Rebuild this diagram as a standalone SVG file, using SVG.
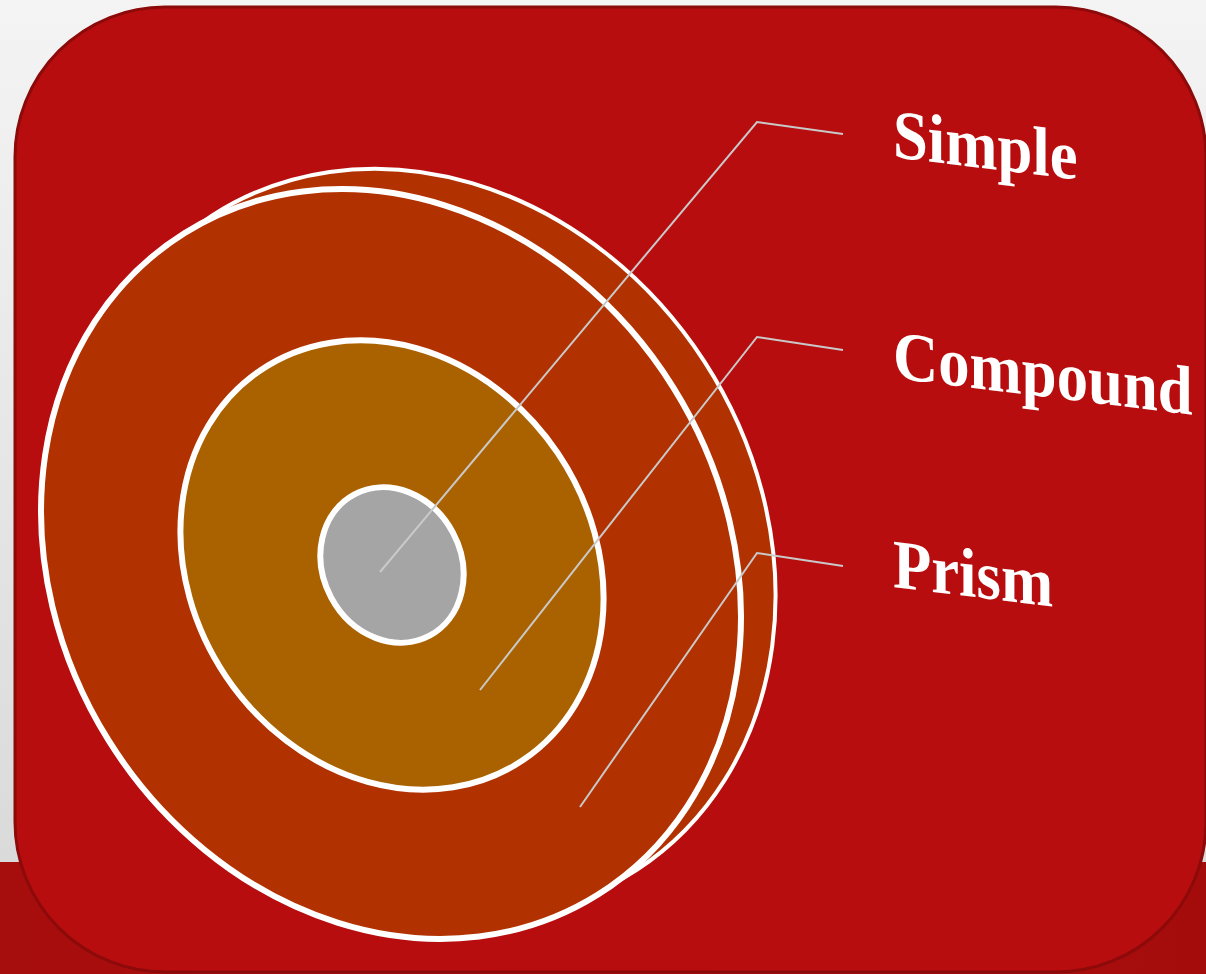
<svg xmlns="http://www.w3.org/2000/svg" width="1206" height="974" viewBox="0 0 1206 974">
<defs>
<linearGradient id="bg" x1="0" y1="0" x2="0" y2="1">
<stop offset="0" stop-color="#f4f4f4"/>
<stop offset="1" stop-color="#dadada"/>
</linearGradient>
<linearGradient id="band" x1="0" y1="0" x2="1" y2="0">
<stop offset="0" stop-color="#a60d0d"/>
<stop offset="0.5" stop-color="#b20f0f"/>
<stop offset="1" stop-color="#a40c0c"/>
</linearGradient>
</defs>
<style>
.disk{fill:#b13200;stroke:#ffffff}
.lead{fill:none;stroke:#c9c9c9;stroke-width:2}
.lbl{font-family:"Liberation Serif","Times New Roman",serif;font-weight:bold;font-size:66px;fill:#ffffff}
</style>
<rect x="0" y="0" width="1206" height="862" fill="url(#bg)"/>
<rect x="0" y="862" width="1206" height="112" fill="url(#band)"/>
<rect id="panel" x="15" y="7" width="1191" height="965" rx="150" ry="150" fill="#b80d0f" stroke="#8c0a0a" stroke-width="3"/>
<g id="prism">
<ellipse class="disk" cx="424" cy="543" rx="334" ry="390" transform="rotate(-33 424 543)" stroke-width="4"/>
<ellipse class="disk" cx="391" cy="564" rx="333" ry="390" transform="rotate(-32 391 564)" stroke-width="6"/>
</g>
<g id="compound">
<ellipse cx="392" cy="565" rx="200" ry="235" transform="rotate(-34 392 565)" fill="#aa6200" stroke="#ffffff" stroke-width="6"/>
</g>
<g id="simple">
<ellipse cx="392" cy="565" rx="69" ry="80" transform="rotate(-28 392 565)" fill="#a5a5a5" stroke="#ffffff" stroke-width="6"/>
</g>
<g id="connectors">
<polyline class="lead" points="380,572 757,122 843,134"/>
<polyline class="lead" points="480,690 757,337 843,350"/>
<polyline class="lead" points="580,807 757,553 843,566"/>
</g>
<g id="labels">
<text class="lbl" transform="translate(893,157) skewY(7) scale(0.95,1.05)">Simple</text>
<text class="lbl" transform="translate(893,378) skewY(7) scale(0.95,1.05)">Compound</text>
<text class="lbl" transform="translate(893,587) skewY(7) scale(0.95,1.05)">Prism</text>
</g>
</svg>
